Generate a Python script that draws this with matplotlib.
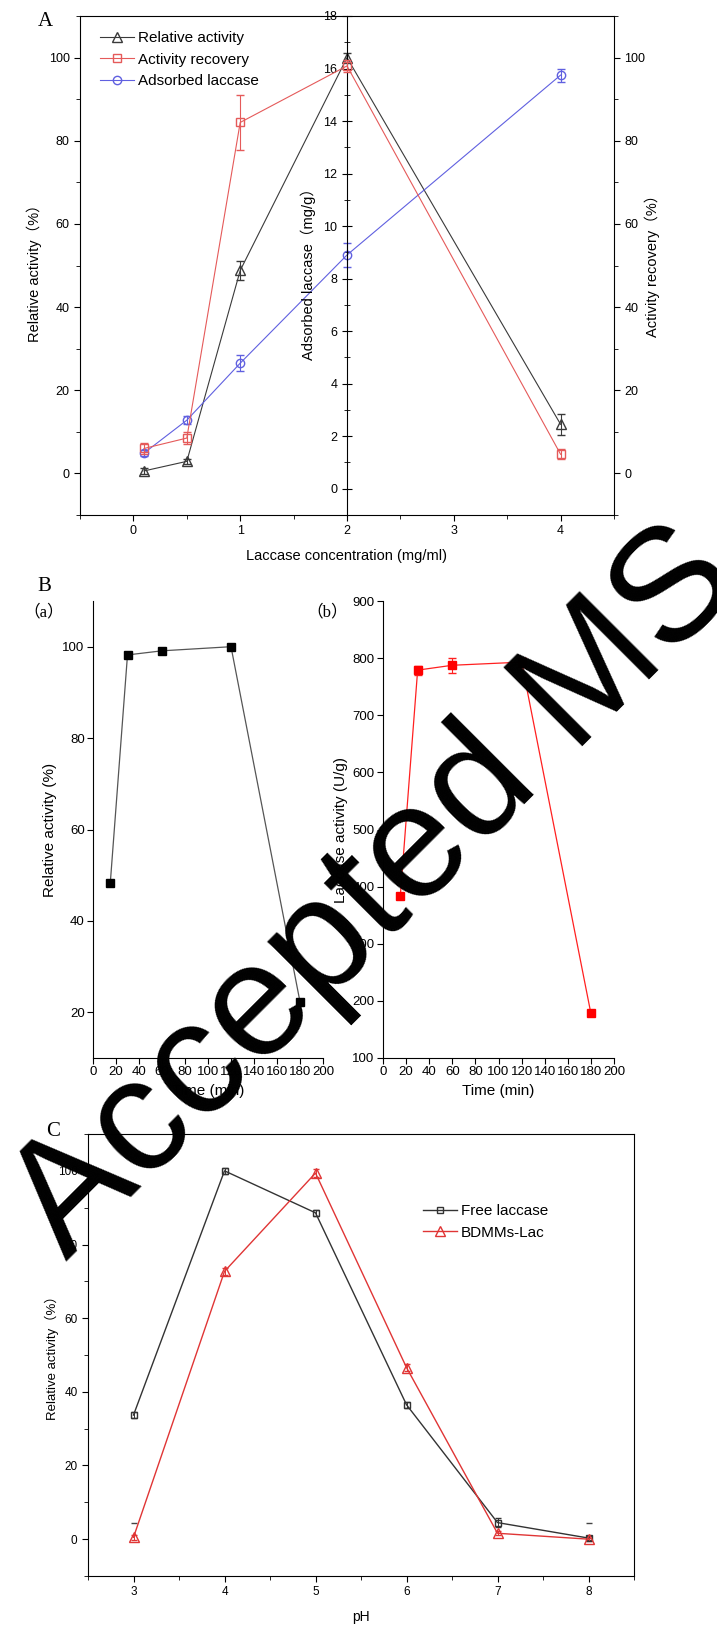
import matplotlib
matplotlib.use('Agg')
import matplotlib.pyplot as plt
from matplotlib.lines import Line2D
from matplotlib.ticker import MultipleLocator

plt.rcParams['font.family'] = ['Liberation Sans', 'Noto Sans CJK SC']

# panel A: immobilization vs laccase concentration
conc = [0.1, 0.5, 1, 2, 4]
rel_act = [0.6, 2.9, 48.8, 100, 11.8]
rel_act_err = [0.8, 0.6, 2.3, 1.0, 2.5]
act_rec = [6.0, 8.5, 84.4, 98.0, 4.6]
act_rec_err = [1.3, 1.5, 6.7, 1.5, 1.2]
ads_lac = [1.36, 2.61, 4.78, 8.9, 15.75]
ads_lac_err = [0.1, 0.15, 0.3, 0.45, 0.25]

# panel B: immobilization time
times = [15, 30, 60, 120, 180]
rel_time = [48.2, 98.2, 99.1, 100, 22.3]
lac_act = [384, 779, 787.5, 793, 178]
lac_act_err = [5, 8, 13, 8, 3]

# panel C: pH profile
ph = [3, 4, 5, 6, 7, 8]
free_lac = [33.7, 100, 88.6, 36.5, 4.5, 0.3]
free_lac_err = [0.8, 0.8, 0.8, 0.8, 1.2, 0.5]
bdmm_lac = [0.5, 72.7, 99.4, 46.6, 1.6, 0.0]
bdmm_lac_err = [0.6, 1.0, 1.2, 1.0, 0.6, 0.4]
stray_ph = [3, 8]
stray_val = [4.5, 4.3]

W, H = 717, 1630
fig = plt.figure(figsize=(W / 100, H / 100), dpi=100)


def box(l, t, r, b):
    return [l / W, 1 - b / H, (r - l) / W, (b - t) / H]


def px(x, y):
    return x / W, 1 - y / H


serif = ['Liberation Serif', 'Noto Sans CJK SC']

# ---------------- A ----------------
ax = fig.add_axes(box(80, 16, 614, 515))
ax_m = ax.twinx()
ax_r = ax.twinx()
ax.set_xlim(-0.5, 4.5)
ax.set_ylim(-10, 110)
ax_r.set_ylim(-10, 110)
ax_m.set_ylim(-1, 18)

k_col, r_col, b_col = '#3a3a3a', '#e55a5a', '#6060e0'
ax.errorbar(conc, rel_act, yerr=rel_act_err, color=k_col, marker='^', ms=7,
            mfc='none', lw=0.8, elinewidth=0.8, capsize=3)
ax_r.errorbar(conc, act_rec, yerr=act_rec_err, color=r_col, marker='s', ms=6,
              mfc='none', lw=0.8, elinewidth=0.8, capsize=3)
ax_m.errorbar(conc, ads_lac, yerr=ads_lac_err, color=b_col, marker='o', ms=6,
              mfc='none', lw=0.8, elinewidth=0.8, capsize=3)

ax.spines['right'].set_visible(False)
for s in ['left', 'top', 'bottom']:
    ax_r.spines[s].set_visible(False)
for s in ['top', 'bottom', 'right']:
    ax_m.spines[s].set_visible(False)
ax_m.spines['left'].set_visible(True)
ax_m.spines['left'].set_position(('data', 2))
ax_m.yaxis.tick_left()

ax.xaxis.set_major_locator(MultipleLocator(1))
ax.xaxis.set_minor_locator(MultipleLocator(0.5))
for a in (ax, ax_r):
    a.yaxis.set_major_locator(MultipleLocator(20))
    a.yaxis.set_minor_locator(MultipleLocator(10))
ax_m.yaxis.set_major_locator(MultipleLocator(2))
ax_m.yaxis.set_minor_locator(MultipleLocator(1))

ax.tick_params(which='both', direction='out', top=False, right=False, labelsize=9)
ax.tick_params(which='major', length=4)
ax.tick_params(which='minor', length=3)
ax_r.tick_params(which='both', direction='out', labelsize=9)
ax_r.tick_params(which='major', length=4)
ax_r.tick_params(which='minor', length=3)
ax_m.tick_params(which='both', direction='inout', labelsize=9, right=False)
ax_m.tick_params(which='major', length=7)
ax_m.tick_params(which='minor', length=5)

ax.set_xlabel('Laccase concentration (mg/ml)', fontsize=10.5, labelpad=8)
fig.text(*px(34, 270), 'Relative activity（%）', rotation=90, ha='center', va='center', fontsize=10.5)
fig.text(*px(308, 270), 'Adsorbed laccase（mg/g）', rotation=90, ha='center', va='center', fontsize=10.5)
fig.text(*px(652, 262), 'Activity recovery（%）', rotation=90, ha='center', va='center', fontsize=10.5)
leg_a = [Line2D([], [], color=k_col, lw=0.8, marker='^', ms=7, mfc='none'),
         Line2D([], [], color=r_col, lw=0.8, marker='s', ms=6, mfc='none'),
         Line2D([], [], color=b_col, lw=0.8, marker='o', ms=6, mfc='none')]
ax.legend(leg_a, ['Relative activity', 'Activity recovery', 'Adsorbed laccase'],
          loc='upper left', bbox_to_anchor=px(100, 31), bbox_transform=fig.transFigure,
          frameon=False, fontsize=11, handlelength=2.2, handletextpad=0.3, labelspacing=0.5,
          borderpad=0, borderaxespad=0)
fig.text(*px(45, 22), 'A', ha='center', va='center', fontsize=15, family=serif)

# ---------------- B ----------------
ba = fig.add_axes(box(93, 601, 323, 1058))
ba.plot(times, rel_time, color='#555555', lw=0.9, marker='s', ms=6, mfc='black', mec='black')
ba.set_xlim(0, 200)
ba.set_ylim(10, 110)
ba.set_xticks(range(0, 201, 20))
ba.set_yticks([20, 40, 60, 80, 100])
ba.set_xlabel('Time (min)', fontsize=11, labelpad=4)
ba.set_ylabel('Relative activity (%)', fontsize=11)

bb = fig.add_axes(box(383, 601, 614, 1058))
bb.errorbar(times, lac_act, yerr=lac_act_err, color='#ff2020', lw=0.9, marker='s', ms=6,
            mfc='#ff0000', mec='#ff0000', elinewidth=0.8, capsize=3)
bb.set_xlim(0, 200)
bb.set_ylim(100, 900)
bb.set_xticks(range(0, 201, 20))
bb.set_yticks(range(100, 901, 100))
bb.set_xlabel('Time (min)', fontsize=11, labelpad=4)
bb.set_ylabel('Laccase activity (U/g)', fontsize=11, labelpad=3)

for a in (ba, bb):
    a.spines['top'].set_visible(False)
    a.spines['right'].set_visible(False)
    a.tick_params(direction='out', length=4, labelsize=9.5, pad=2)

fig.text(*px(44, 587), 'B', ha='center', va='center', fontsize=15, family=serif)
fig.text(*px(44, 612), '（a）', ha='center', va='center', fontsize=12, family=serif)
fig.text(*px(327, 612), '（b）', ha='center', va='center', fontsize=12, family=serif)

# ---------------- C ----------------
axc = fig.add_axes(box(88, 1134, 634, 1576))
c_k, c_r = '#333333', '#e03535'
axc.errorbar(ph, free_lac, yerr=free_lac_err, color=c_k, marker='s', ms=5, mfc='none',
             lw=1.0, elinewidth=0.7, capsize=2)
axc.errorbar(ph, bdmm_lac, yerr=bdmm_lac_err, color=c_r, marker='^', ms=7, mfc='none',
             lw=1.0, elinewidth=0.7, capsize=2)
axc.plot(stray_ph, stray_val, ls='none', marker='_', ms=5, color='#444444')
axc.set_xlim(2.5, 8.5)
axc.set_ylim(-10, 110)
axc.xaxis.set_major_locator(MultipleLocator(1))
axc.xaxis.set_minor_locator(MultipleLocator(0.5))
axc.yaxis.set_major_locator(MultipleLocator(20))
axc.yaxis.set_minor_locator(MultipleLocator(10))
axc.tick_params(which='both', direction='out', labelsize=8.5, top=False, right=False)
axc.tick_params(which='major', length=4)
axc.tick_params(which='minor', length=3)
axc.set_xlabel('pH', fontsize=10, labelpad=8)
fig.text(*px(52, 1355), 'Relative activity（%）', rotation=90, ha='center', va='center', fontsize=9.5)
leg_c = [Line2D([], [], color=c_k, lw=1.0, marker='s', ms=5, mfc='none'),
         Line2D([], [], color=c_r, lw=1.0, marker='^', ms=7, mfc='none')]
axc.legend(leg_c, ['Free laccase', 'BDMMs-Lac'], loc='upper left', bbox_to_anchor=px(423, 1204),
           bbox_transform=fig.transFigure, frameon=False, fontsize=11, handlelength=2.2,
           handletextpad=0.3, labelspacing=0.5, borderpad=0, borderaxespad=0)
fig.text(*px(53, 1131), 'C', ha='center', va='center', fontsize=15, family=serif)

# watermark
fig.text(*px(67, 1262), 'Accepted MS', rotation=45, rotation_mode='anchor', ha='left',
         va='baseline', fontsize=116, color='black', family='Liberation Sans')

fig.savefig('out.png', dpi=100)
